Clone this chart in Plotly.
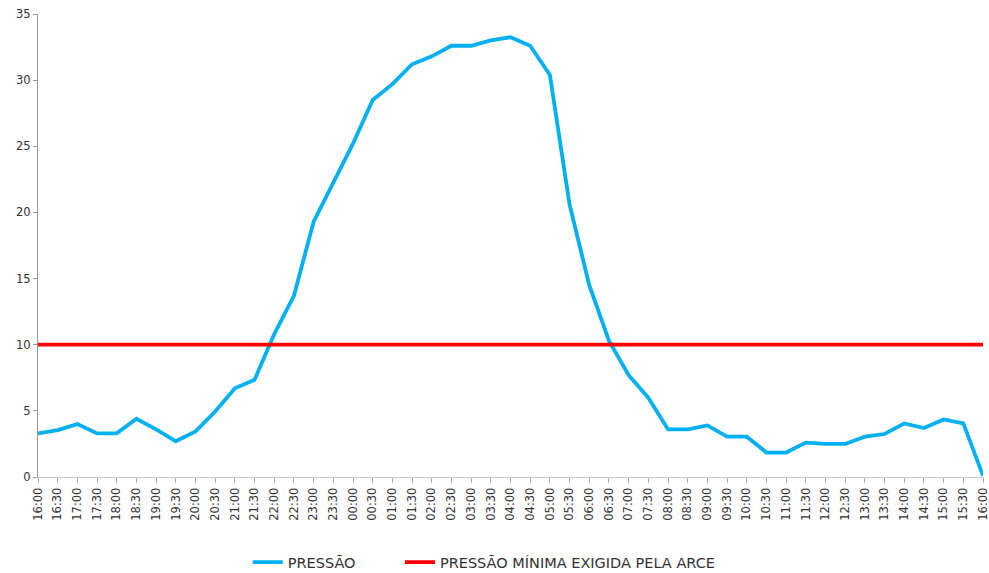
import plotly.graph_objects as go

times = ["16:00","16:30","17:00","17:30","18:00","18:30","19:00","19:30","20:00","20:30",
         "21:00","21:30","22:00","22:30","23:00","23:30","00:00","00:30","01:00","01:30",
         "02:00","02:30","03:00","03:30","04:00","04:30","05:00","05:30","06:00","06:30",
         "07:00","07:30","08:00","08:30","09:00","09:30","10:00","10:30","11:00","11:30",
         "12:00","12:30","13:00","13:30","14:00","14:30","15:00","15:30","16:00"]
pressao = [3.3, 3.55, 4.0, 3.3, 3.3, 4.4, 3.6, 2.7, 3.45, 4.95,
           6.7, 7.35, 10.8, 13.7, 19.3, 22.2, 25.2, 28.5, 29.7, 31.2,
           31.8, 32.6, 32.6, 33.0, 33.25, 32.6, 30.4, 20.6, 14.5, 10.3,
           7.7, 6.0, 3.6, 3.6, 3.9, 3.05, 3.05, 1.85, 1.85, 2.6,
           2.5, 2.5, 3.05, 3.25, 4.05, 3.7, 4.35, 4.05, 0.1]
minimo = [10] * len(times)
xidx = list(range(len(times)))

fig = go.Figure()
fig.add_trace(go.Scatter(x=xidx, y=pressao, mode="lines", name="PRESSÃO",
                         line=dict(color="#00B0F0", width=3.8), legend="legend"))
fig.add_trace(go.Scatter(x=xidx, y=minimo, mode="lines", name="PRESSÃO MÍNIMA EXIGIDA PELA ARCE",
                         line=dict(color="#FF0000", width=3.8), legend="legend2"))

legfont = dict(size=14.5, color="#333333")
fig.update_layout(
    width=989, height=573,
    margin=dict(l=38, r=6, t=14, b=96, autoexpand=False),
    paper_bgcolor="white", plot_bgcolor="white",
    font=dict(family="DejaVu Sans", size=11, color="#333333"),
    showlegend=True,
    legend=dict(orientation="h", x=0.222, xanchor="left", y=-0.184, yanchor="middle",
                font=legfont, itemwidth=30, bgcolor="rgba(0,0,0,0)"),
    legend2=dict(orientation="h", x=0.383, xanchor="left", y=-0.184, yanchor="middle",
                 font=legfont, itemwidth=30, bgcolor="rgba(0,0,0,0)"),
    xaxis=dict(range=[0, 48], tickmode="array", tickvals=xidx, ticktext=times,
               showgrid=False, showline=True, automargin=False, ticklabeloverflow="allow",
               linecolor="#C8C8C8", linewidth=1, ticks="outside", ticklen=5,
               tickcolor="#AAAAAA", tickangle=-90, tickfont=dict(size=11.5),
               zeroline=False),
    yaxis=dict(range=[0, 35], dtick=5, showgrid=False, showline=True, automargin=False,
               ticklabeloverflow="allow",
               linecolor="#999999", linewidth=1, ticks="outside", ticklen=4,
               tickcolor="#999999", zeroline=False, tickfont=dict(size=11.5)),
)

fig.write_html("out.html", config={"displayModeBar": False},
               post_script="document.body.style.margin='0px';")
